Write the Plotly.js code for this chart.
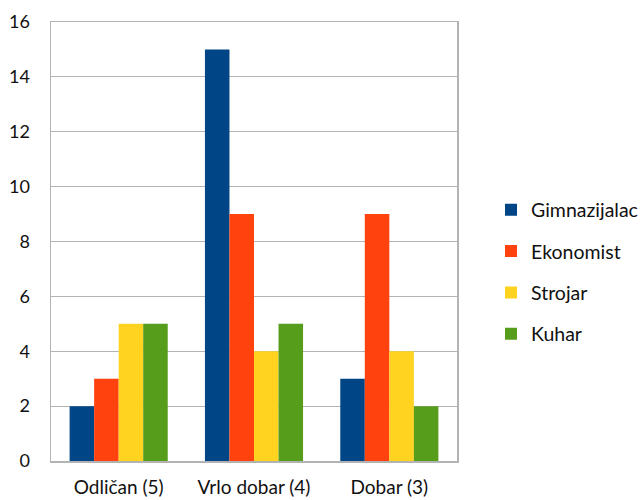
<!DOCTYPE html>
<html>
<head>
<meta charset="utf-8">
<script src="https://cdn.plot.ly/plotly-3.0.1.min.js"></script>
<style>html,body{margin:0;padding:0;background:#fff;}#chart{width:641px;height:500px;}</style>
</head>
<body>
<div id="chart"></div>
<script>
const categories = ["Odličan (5)", "Vrlo dobar (4)", "Dobar (3)"];
const seriesNames = ["Gimnazijalac", "Ekonomist", "Strojar", "Kuhar"];
const gimnazijalac = [2, 15, 3];
const ekonomist = [3, 9, 9];
const strojar = [5, 4, 4];
const kuhar = [5, 5, 2];
const yTicks = [0, 2, 4, 6, 8, 10, 12, 14, 16];

const colors = ["#004586", "#ff420e", "#ffd320", "#579d1c"];
const values = [gimnazijalac, ekonomist, strojar, kuhar];

const data = values.map((v, i) => ({
  type: "bar",
  name: seriesNames[i],
  x: categories,
  y: v,
  marker: {color: colors[i], line: {width: 0}},
  legendgroup: "g" + i,
  hoverinfo: "x+y+name"
}));

const layout = {
  width: 641, height: 500,
  margin: {l: 51, r: 184, t: 22, b: 39, autoexpand: false},
  paper_bgcolor: "#ffffff",
  plot_bgcolor: "#ffffff",
  font: {family: "Lato, 'Open Sans', sans-serif", size: 18, color: "#111111"},
  barmode: "group",
  bargap: 0.275,
  bargroupgap: 0,
  xaxis: {
    showline: true, mirror: true, linecolor: "#b3b3b3", linewidth: 1.5,
    ticks: "", showgrid: false, zeroline: false,
    tickfont: {size: 19}, ticklabelstandoff: 9
  },
  yaxis: {
    range: [0, 16], tickvals: yTicks, ticktext: yTicks.map(String),
    showline: true, mirror: true, linecolor: "#b3b3b3", linewidth: 1.5,
    showgrid: true, gridcolor: "#b3b3b3", gridwidth: 1.2,
    zeroline: false, ticks: "", tickfont: {size: 18}, ticklabelstandoff: 16
  },
  legend: {
    xref: "container", yref: "container",
    x: 0.766, xanchor: "left", y: 0.456, yanchor: "middle",
    font: {size: 19.5, color: "#111111"},
    traceorder: "grouped", tracegroupgap: 13,
    bgcolor: "rgba(0,0,0,0)"
  },
  showlegend: true
};

Plotly.newPlot("chart", data, layout, {displayModeBar: false, staticPlot: true});
</script>
</body>
</html>
